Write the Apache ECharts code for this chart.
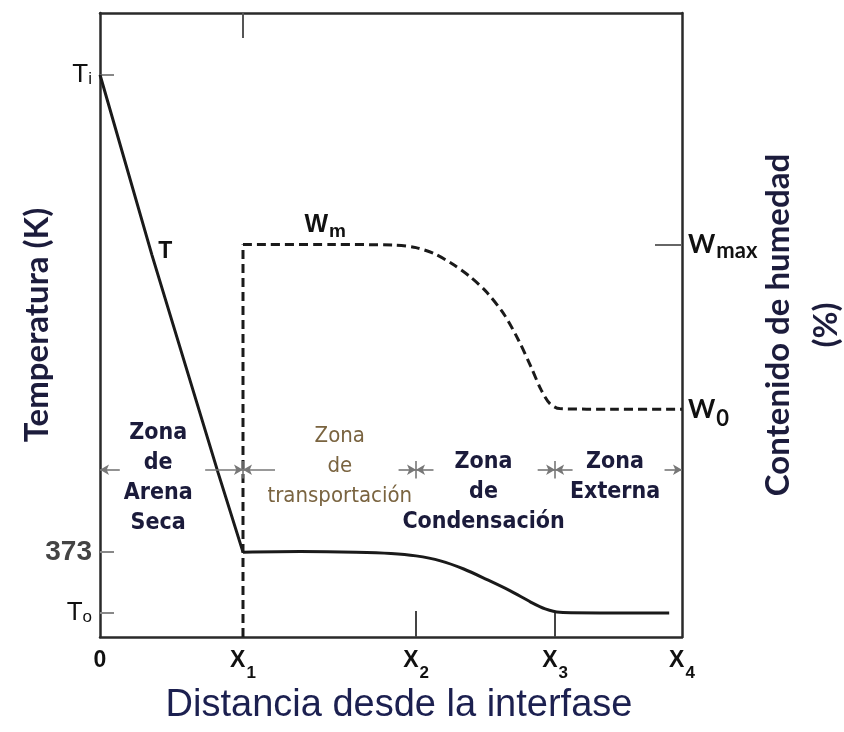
<!DOCTYPE html>
<html>
<head>
<meta charset="utf-8">
<script src="https://cdn.jsdelivr.net/npm/echarts@6/dist/echarts.min.js"></script>
<style>html,body{margin:0;padding:0;background:#fff;}#c{width:844px;height:732px;}</style>
</head>
<body>
<div id="c"></div>
<script>
// ---- data (abstract units: distance 0..100, temperature / moisture 0..100) ----
const xTickValues = [0, 24.57, 54.3, 78.2, 100];
const xTickLabels = ['0', 'X1', 'X2', 'X3', 'X4'];
const tempTickValues = [90.1, 13.6, 3.85];
const tempTickLabels = ['Ti', '373', 'To'];
const moistTickValues = [62.9, 36.5];
const moistTickLabels = ['Wmax', 'W0'];

// temperature profile: dry-sand part (nearly straight) and the rest (smooth)
const tempDryX = [0, 8.93, 20.3, 24.57];
const tempDryY = [90.1, 61.2, 26.3, 13.6];
const tempWetX = [24.57, 34.4, 44.0, 50.0, 54.3, 58.5, 62.5, 66.5, 70.5, 74.0, 76.5, 79.0, 85.9, 97.8];
const tempWetY = [13.6, 13.7, 13.6, 13.4, 13.0, 12.2, 10.9, 9.2, 7.4, 5.6, 4.5, 3.95, 3.85, 3.85];

// moisture profile: step at X1, then plateau and drop
const moistStepX = [24.57, 24.57];
const moistStepY = [0, 62.9];
const moistCurveX = [24.57, 40, 50.5, 54.3, 57.5, 60.5, 63.5, 66.5, 69.5, 72.0, 74.0, 75.8, 77.3, 79.0, 88, 100];
const moistCurveY = [62.9, 62.9, 62.8, 62.4, 61.4, 59.8, 57.8, 55.2, 51.6, 47.4, 43.4, 39.6, 37.4, 36.6, 36.5, 36.5];

const zoneNames = ['Zona\nde\nArena\nSeca', 'Zona\nde\ntransportación', 'Zona\nde\nCondensación', 'Zona\nExterna'];

// ---- layout helpers (annotation anchors, not data) ----
const zoneAnchor = [[10.0, 25.5], [41.2, 27.4], [65.9, 23.2], [88.5, 25.6]];
const zoneBold = [true, false, true, true];
const arrowY = 26.8;
const arrowLenLeft = [0, 6.5, 3.0, 3.0, 3.0];
const arrowLenRight = [3.4, 5.5, 3.0, 3.0, 0];

const zip = (xs, ys) => xs.map((x, i) => [x, ys[i]]);
const findIdx = (arr, v) => arr.findIndex(a => Math.abs(a - v) < 1e-6);

const arrowData = [];
xTickValues.forEach((b, i) => {
  if (arrowLenLeft[i] > 0) arrowData.push([{coord: [b - arrowLenLeft[i], arrowY]}, {coord: [b, arrowY]}]);
  if (arrowLenRight[i] > 0) arrowData.push([{coord: [b + arrowLenRight[i], arrowY]}, {coord: [b, arrowY]}]);
  if (i > 0 && i < xTickValues.length - 1) {
    arrowData.push([{coord: [b, arrowY - 1.4], symbol: 'none'}, {coord: [b, arrowY + 1.4], symbol: 'none'}]);
  }
});

const narrow = "'Liberation Sans Narrow', 'DejaVu Sans Condensed', 'Liberation Sans', sans-serif";
const sans = "'Liberation Sans', Arial, sans-serif";
const calib = "Lato, 'Open Sans', sans-serif";

const annotations = zoneNames.map((t, i) => ({
  value: zoneAnchor[i],
  label: {
    formatter: t,
    fontFamily: narrow,
    fontWeight: zoneBold[i] ? 'bold' : 'normal',
    fontSize: zoneBold[i] ? 23 : 22,
    lineHeight: 30,
    color: zoneBold[i] ? '#1b1b3b' : '#7a6440'
  }
}));
annotations.push({
  value: [11.2, 61.7],
  label: {formatter: 'T', fontFamily: sans, fontWeight: 'bold', fontSize: 23, color: '#111'}
});
annotations.push({
  value: [38.7, 66.0],
  label: {
    formatter: '{w|W}{s|m}',
    rich: {
      w: {fontFamily: sans, fontWeight: 'bold', fontSize: 25, color: '#111', lineHeight: 26},
      s: {fontFamily: sans, fontWeight: 'bold', fontSize: 19, color: '#111', lineHeight: 19, padding: [10, 0, 0, 1], verticalAlign: 'top'}
    }
  }
});

const lineColor = '#1a1a1a';
const frameColor = '#2a2a2a';

const chart = echarts.init(document.getElementById('c'), null, {renderer: 'canvas'});
chart.setOption({
  animation: false,
  backgroundColor: '#ffffff',
  grid: {left: 100, right: 162, top: 13, bottom: 95, containLabel: false, outerBoundsMode: 'none'},
  xAxis: [{
    type: 'value', min: 0, max: 100, position: 'bottom',
    name: 'Distancia desde la interfase', nameLocation: 'middle', nameGap: 48,
    nameTextStyle: {fontFamily: sans, fontSize: 38, color: '#1c2050', padding: [0, 0, 0, 16]},
    axisLine: {show: true, onZero: false, lineStyle: {color: frameColor, width: 2.5}},
    axisTick: {show: true, inside: true, length: 26, customValues: [xTickValues[2], xTickValues[3]], lineStyle: {color: '#444', width: 2}},
    splitLine: {show: false},
    axisLabel: {
      customValues: xTickValues, margin: 16,
      formatter: v => {
        const i = findIdx(xTickValues, v);
        if (i < 0) return '';
        const lab = xTickLabels[i];
        return lab.length > 1 ? '{b|' + lab[0] + '}{s|' + lab.slice(1) + '}' : '{b|' + lab + '}';
      },
      rich: {
        b: {fontFamily: sans, fontWeight: 'bold', fontSize: 23, color: '#111', lineHeight: 24, padding: [0, 0, 8, 0]},
        s: {fontFamily: sans, fontWeight: 'bold', fontSize: 17, color: '#111', lineHeight: 16, padding: [12, 0, 0, 1], verticalAlign: 'top'}
      }
    }
  }, {
    type: 'value', min: 0, max: 100, position: 'top',
    axisLine: {show: true, onZero: false, lineStyle: {color: frameColor, width: 2.5}},
    axisTick: {show: true, inside: true, length: 25, customValues: [xTickValues[1]], lineStyle: {color: '#555', width: 2}},
    axisLabel: {show: false}, splitLine: {show: false}
  }],
  yAxis: [{
    type: 'value', min: 0, max: 100, position: 'left',
    name: 'Temperatura (K)', nameLocation: 'middle', nameGap: 46, nameMoveOverlap: false,
    nameTextStyle: {fontFamily: calib, fontWeight: 'bold', fontSize: 33, color: '#1c1c3c'},
    axisLine: {show: true, onZero: false, lineStyle: {color: frameColor, width: 2.5}},
    axisTick: {show: true, inside: true, length: 14, customValues: tempTickValues, lineStyle: {color: '#888', width: 2}},
    splitLine: {show: false},
    axisLabel: {
      customValues: tempTickValues, margin: 8,
      formatter: v => {
        const i = findIdx(tempTickValues, v);
        if (i < 0) return '';
        const lab = tempTickLabels[i];
        if (lab === '373') return '{n|373}';
        return '{t|' + lab[0] + '}{u|' + lab.slice(1) + '}';
      },
      rich: {
        t: {fontFamily: sans, fontSize: 26, color: '#111', lineHeight: 26},
        u: {fontFamily: sans, fontSize: 17, color: '#111', lineHeight: 17, verticalAlign: 'bottom'},
        n: {fontFamily: sans, fontWeight: 'bold', fontSize: 28, color: '#444', lineHeight: 28}
      }
    }
  }, {
    type: 'value', min: 0, max: 100, position: 'right',
    name: 'Contenido de humedad\n(%)', nameLocation: 'middle', nameGap: 72, nameRotate: 90, nameMoveOverlap: false,
    nameTextStyle: {fontFamily: calib, fontWeight: 'bold', fontSize: 33, color: '#1c1c3c', lineHeight: 48},
    axisLine: {show: true, onZero: false, lineStyle: {color: frameColor, width: 2.5}},
    axisTick: {show: true, inside: true, length: 27, customValues: [moistTickValues[0]], lineStyle: {color: '#666', width: 2}},
    splitLine: {show: false},
    axisLabel: {
      customValues: moistTickValues, margin: 6,
      formatter: v => {
        const i = findIdx(moistTickValues, v);
        if (i < 0) return '';
        const lab = moistTickLabels[i];
        return lab === 'W0' ? '{w|W}{z|0}' : '{w|W}{m|max}';
      },
      rich: {
        w: {fontFamily: calib, fontWeight: 'bold', fontSize: 26, color: '#111', lineHeight: 26},
        m: {fontFamily: calib, fontWeight: 'bold', fontSize: 22, color: '#111', lineHeight: 22, padding: [8, 0, 0, 1], verticalAlign: 'top'},
        z: {fontFamily: calib, fontWeight: 'bold', fontSize: 22, color: '#111', lineHeight: 22, padding: [12, 0, 0, 1], verticalAlign: 'top'}
      }
    }
  }],
  series: [{
    name: 'T seca', type: 'line', xAxisIndex: 0, yAxisIndex: 0,
    data: zip(tempDryX, tempDryY), showSymbol: false, smooth: false,
    lineStyle: {color: lineColor, width: 3},
    markLine: {
      silent: true, symbol: ['none', 'arrow'], symbolSize: [8, 9], animation: false,
      lineStyle: {color: '#777', width: 1.6, type: 'solid'}, label: {show: false},
      emphasis: {disabled: true},
      data: arrowData
    }
  }, {
    name: 'T', type: 'line', xAxisIndex: 0, yAxisIndex: 0,
    data: zip(tempWetX, tempWetY), showSymbol: false, smooth: 0.3,
    lineStyle: {color: lineColor, width: 3}
  }, {
    name: 'W escalón', type: 'line', xAxisIndex: 0, yAxisIndex: 1,
    data: zip(moistStepX, moistStepY), showSymbol: false,
    lineStyle: {color: lineColor, width: 3, type: [9, 5]}
  }, {
    name: 'W', type: 'line', xAxisIndex: 0, yAxisIndex: 1,
    data: zip(moistCurveX, moistCurveY), showSymbol: false, smooth: 0.3,
    lineStyle: {color: lineColor, width: 3, type: [9, 5]}
  }, {
    name: 'etiquetas', type: 'scatter', xAxisIndex: 0, yAxisIndex: 0,
    symbolSize: 1, itemStyle: {color: 'rgba(0,0,0,0)', opacity: 1}, silent: true, z: 10,
    label: {show: true, position: 'inside', align: 'center', verticalAlign: 'middle'},
    data: annotations
  }]
});
</script>
</body>
</html>
